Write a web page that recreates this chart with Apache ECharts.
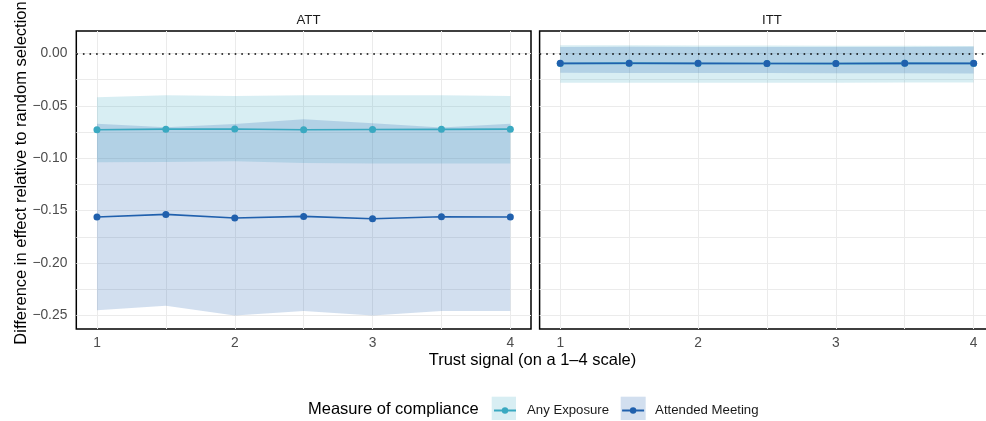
<!DOCTYPE html>
<html><head><meta charset="utf-8">
<script src="https://cdn.jsdelivr.net/npm/echarts@6/dist/echarts.min.js"></script>
<style>html,body{margin:0;padding:0;background:#fff}#c{width:986px;height:421px}</style>
</head><body><div id="c"></div>
<script>
// ---- data ----
const trustSignal = [1, 1.5, 2, 2.5, 3, 3.5, 4];
const xTickLabels = [1, 2, 3, 4];
const yTickLabels = [-0.25, -0.2, -0.15, -0.1, -0.05, 0];
const panels = ['ATT', 'ITT'];
const compliance = ['Any Exposure', 'Attended Meeting'];

// ATT panel
const attAnyEst   = [-0.0728, -0.0722, -0.0721, -0.0728, -0.0725, -0.0724, -0.0722];
const attAnyLow   = [-0.1039, -0.1035, -0.1029, -0.1045, -0.1051, -0.1051, -0.1051];
const attAnyHigh  = [-0.0418, -0.0399, -0.0405, -0.0399, -0.0399, -0.0399, -0.0405];
const attMeetEst  = [-0.1561, -0.1536, -0.1571, -0.1555, -0.1577, -0.1558, -0.1561];
const attMeetLow  = [-0.2450, -0.2409, -0.2501, -0.2457, -0.2501, -0.2457, -0.2457];
const attMeetHigh = [-0.0671, -0.0703, -0.0674, -0.0627, -0.0665, -0.0707, -0.0671];

// ITT panel
const ittAnyEst   = [-0.0095, -0.0092, -0.0095, -0.0095, -0.0096, -0.0094, -0.0095];
const ittAnyLow   = [-0.0279, -0.0278, -0.0280, -0.0279, -0.0278, -0.0277, -0.0276];
const ittAnyHigh  = [0.0079, 0.0078, 0.0076, 0.0076, 0.0075, 0.0074, 0.0072];
const ittMeetEst  = [-0.0094, -0.0093, -0.0094, -0.0095, -0.0095, -0.0094, -0.0094];
const ittMeetLow  = [-0.0184, -0.0185, -0.0186, -0.0187, -0.0188, -0.0189, -0.0190];
const ittMeetHigh = [0.0063, 0.0064, 0.0062, 0.0062, 0.0063, 0.0063, 0.0064];

// ---- styling ----
const colAny = '#3aa9c1';
const colMeet = '#2060ad';
const fillAny = 'rgba(58,169,193,0.2)';
const fillMeet = 'rgba(32,96,173,0.2)';
const FONT = 'Liberation Sans, Arial, sans-serif';
const gridTicksX = [1, 1.5, 2, 2.5, 3, 3.5, 4];
const gridTicksY = [-0.25, -0.225, -0.2, -0.175, -0.15, -0.125, -0.1, -0.075, -0.05, -0.025, 0];

const chart = echarts.init(document.getElementById('c'), null, {renderer: 'canvas'});

function band(name, gi, lo, hi, fill) {
  return {
    type: 'custom', name: name, xAxisIndex: gi, yAxisIndex: gi, z: 1, silent: true,
    data: trustSignal.map((x, i) => [x, lo[i], hi[i]]),
    encode: {x: 0, y: [1, 2]},
    renderItem: function (params, api) {
      if (params.dataIndex !== 0) return null;
      const pts = [];
      for (let i = 0; i < trustSignal.length; i++) pts.push(api.coord([trustSignal[i], hi[i]]));
      for (let i = trustSignal.length - 1; i >= 0; i--) pts.push(api.coord([trustSignal[i], lo[i]]));
      return {type: 'polygon', shape: {points: pts}, style: {fill: fill}};
    }
  };
}
function line(name, gi, est, col, withZero) {
  const s = {
    type: 'line', name: name, xAxisIndex: gi, yAxisIndex: gi, z: 3,
    data: trustSignal.map((x, i) => [x, est[i]]),
    symbol: 'circle', symbolSize: 7, showSymbol: true,
    lineStyle: {color: col, width: 1.6}, itemStyle: {color: col},
    emphasis: {disabled: true}
  };
  if (withZero) {
    s.markLine = {
      silent: true, symbol: ['none', 'none'], label: {show: false},
      lineStyle: {type: [1.6, 5], color: '#000', width: 1.6},
      data: [{yAxis: 0}]
    };
  }
  return s;
}

const gridTop = 31, gridH = 298, gridW = 454.7;
const grids = [
  {left: 76.3, top: gridTop, width: gridW, height: gridH, show: true, borderColor: '#000', borderWidth: 1.5, backgroundColor: 'transparent', containLabel: false, outerBoundsMode: 'none'},
  {left: 539.6, top: gridTop, width: gridW, height: gridH, show: true, borderColor: '#000', borderWidth: 1.5, backgroundColor: 'transparent', containLabel: false, outerBoundsMode: 'none'}
];
const xAxes = [0, 1].map(gi => ({
  type: 'value', gridIndex: gi, min: 0.85, max: 4.15,
  axisLine: {show: false},
  axisTick: {show: false, customValues: gridTicksX},
  axisLabel: {customValues: xTickLabels, color: '#4d4d4d', fontSize: 13.8, fontFamily: FONT, margin: 7,
    formatter: v => String(v)},
  splitLine: {show: true, lineStyle: {color: '#ebebeb', width: 1}}
}));
const yAxes = [0, 1].map(gi => ({
  type: 'value', gridIndex: gi, min: -0.263, max: 0.0215,
  axisLine: {show: false},
  axisTick: {show: false, customValues: gridTicksY},
  axisLabel: {show: gi === 0, customValues: yTickLabels, color: '#4d4d4d', fontSize: 13.8, fontFamily: FONT, margin: 9,
    formatter: v => (v < 0 ? '\u2212' : '') + Math.abs(v).toFixed(2)},
  splitLine: {show: true, lineStyle: {color: '#ebebeb', width: 1}}
}));

const option = {
  animation: false,
  backgroundColor: '#fff',
  textStyle: {fontFamily: FONT},
  title: [
    {text: panels[0], left: 303.5, top: 9, textAlign: 'center', textStyle: {fontSize: 13.2, fontWeight: 'normal', color: '#1a1a1a', fontFamily: FONT}},
    {text: panels[1], left: 767, top: 9, textAlign: 'center', textStyle: {fontSize: 13.2, fontWeight: 'normal', color: '#1a1a1a', fontFamily: FONT}}
  ],
  grid: grids,
  xAxis: xAxes,
  yAxis: yAxes,
  legend: {
    data: compliance, left: 493, top: 404, padding: 0, itemWidth: 22, itemHeight: 8, itemGap: 12,
    selectedMode: false,
    textStyle: {fontSize: 13.2, color: '#1a1a1a', fontFamily: FONT, padding: [0, 0, 0, 6]}
  },
  graphic: [
    {type: 'rect', left: 491.7, top: 396.7, shape: {width: 24.3, height: 23.3}, style: {fill: fillAny}, z: -1, silent: true},
    {type: 'rect', left: 620.7, top: 396.7, shape: {width: 25, height: 23.3}, style: {fill: fillMeet}, z: -1, silent: true},
    {type: 'text', x: 308, y: 409, style: {text: 'Measure of compliance', fill: '#000', fontSize: 16.5, fontFamily: FONT, textAlign: 'left', textVerticalAlign: 'middle'}, silent: true},
    {type: 'text', x: 532.5, y: 360, style: {text: 'Trust signal (on a 1\u20134 scale)', fill: '#000', fontSize: 16.5, fontFamily: FONT, textAlign: 'center', textVerticalAlign: 'middle'}, silent: true},
    {type: 'text', x: 21, y: 173, rotation: Math.PI / 2, style: {text: 'Difference in effect relative to random selection', fill: '#000', fontSize: 16.5, fontFamily: FONT, textAlign: 'center', textVerticalAlign: 'middle'}, silent: true}
  ],
  series: [
    band('Any Exposure band ATT', 0, attAnyLow, attAnyHigh, fillAny),
    band('Attended Meeting band ATT', 0, attMeetLow, attMeetHigh, fillMeet),
    band('Any Exposure band ITT', 1, ittAnyLow, ittAnyHigh, fillAny),
    band('Attended Meeting band ITT', 1, ittMeetLow, ittMeetHigh, fillMeet),
    line(compliance[0], 0, attAnyEst, colAny, true),
    line(compliance[1], 0, attMeetEst, colMeet, false),
    line(compliance[0], 1, ittAnyEst, colAny, true),
    line(compliance[1], 1, ittMeetEst, colMeet, false)
  ]
};
chart.setOption(option);
</script>
</body></html>
